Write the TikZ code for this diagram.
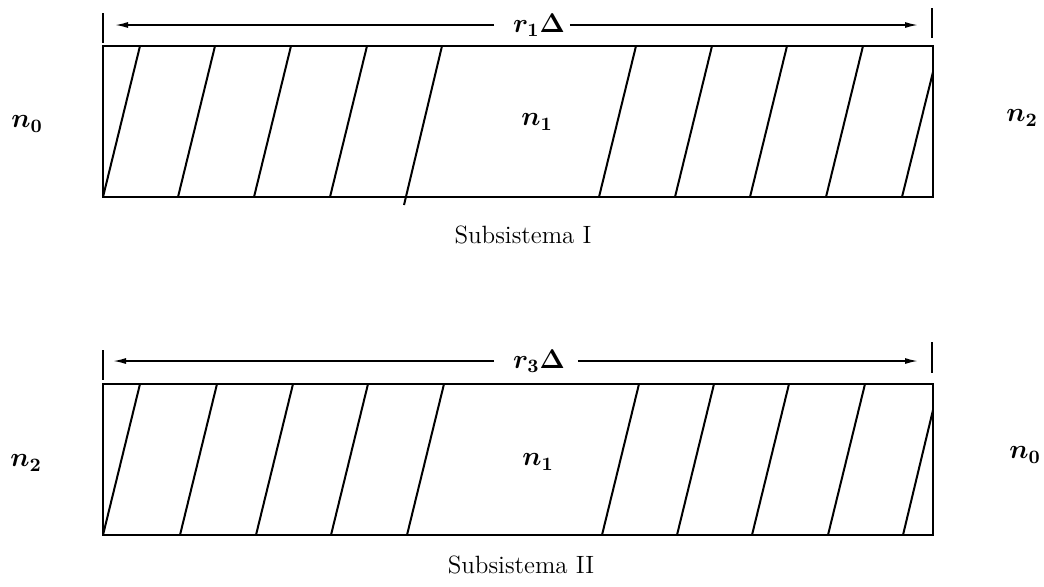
\RequirePackage{fix-cm}
\documentclass[tikz,border=0pt]{standalone}
\usetikzlibrary{arrows.meta}
\begin{document}
\begin{tikzpicture}[x=0.5pt,y=-0.5pt,line width=1pt,
  box/.style={line width=1pt},
  hatch/.style={line width=1pt},
  tick/.style={line width=0.9pt},
  dimarrow/.style={-{Latex[length=6.5pt,width=3pt]},line width=0.8pt},
  mlbl/.style={font=\fontsize{13.5}{16}\selectfont\boldmath,inner sep=0pt},
  lbl/.style={font=\fontsize{12.5}{15}\selectfont,inner sep=0pt}]
\useasboundingbox (0,0) rectangle (1044,586);
% ---------- Subsystem I ----------
\draw[box] (103,46) rectangle (933,197);
\foreach \b in {103,178,254,330,599,675,750,826}
  \draw[hatch] (\b,197) -- ++(37,-151);
\draw[hatch] (404,205) -- (442,46);
\draw[hatch] (902,197) -- (933,72);
\coordinate (tl1) at (103,25);
\coordinate (tr1) at (932,25);
\draw[tick] (103,13) -- (103,43);
\draw[tick] (932,8) -- (932,38);
\node[mlbl] (r1) at (539,25) {$r_1\Delta$};
\draw[dimarrow] ([xshift=-9pt]r1.west) -- ([xshift=6pt]tl1);
\draw[dimarrow] ([xshift=2pt]r1.east) -- ([xshift=-7pt]tr1);
\node[mlbl] (n0a) at (27,124) {$n_0$};
\node[mlbl] (n1a) at (537,122) {$n_1$};
\node[mlbl] (n2a) at (1022,118) {$n_2$};
\node[lbl] (s1) at (523,235) {Subsistema I};
% ---------- Subsystem II ----------
\draw[box] (103,384) rectangle (933,535);
\foreach \b in {103,180,256,331,407,602,677,752,828}
  \draw[hatch] (\b,535) -- ++(37,-151);
\draw[hatch] (903,535) -- (933,410);
\coordinate (tl2) at (103,361);
\coordinate (tr2) at (932,361);
\draw[tick] (103,350) -- (103,380);
\draw[tick] (932,342) -- (932,373);
\node[mlbl] (r3) at (539,361) {$r_3\Delta$};
\draw[dimarrow] ([xshift=-9pt]r3.west) -- ([xshift=5pt]tl2);
\draw[dimarrow] ([xshift=6pt]r3.east) -- ([xshift=-7pt]tr2);
\node[mlbl] (n2b) at (26,463) {$n_2$};
\node[mlbl] (n1b) at (538,462) {$n_1$};
\node[mlbl] (n0b) at (1025,455) {$n_0$};
\node[lbl] (s2) at (521,565) {Subsistema II};
\end{tikzpicture}
\end{document}
